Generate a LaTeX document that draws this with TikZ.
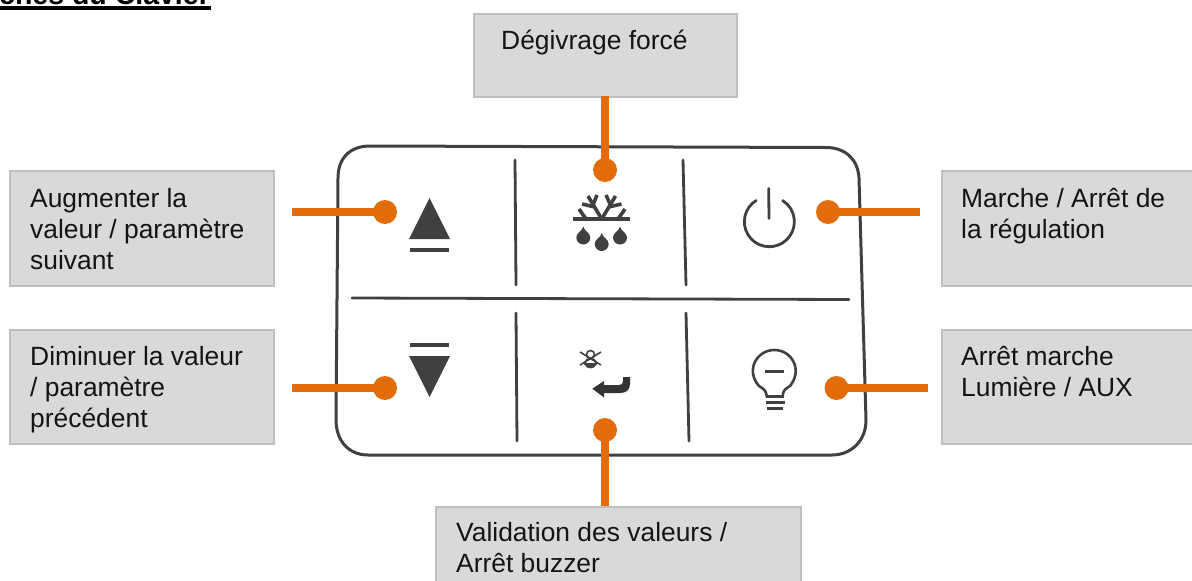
\documentclass[tikz,border=0pt]{standalone}
\usepackage{fontspec}
\setmainfont{Liberation Sans}
\definecolor{boxfill}{HTML}{D9D9D9}
\definecolor{boxedge}{HTML}{BFBFBF}
\definecolor{accent}{HTML}{E36C0A}
\definecolor{ink}{HTML}{404040}
\tikzset{
  x=1pt,y=-1pt,
  infobox/.style={draw=boxedge,fill=boxfill,line width=1.5pt,rectangle,inner sep=0pt,anchor=north west},
  infotext/.style={anchor=base west,inner sep=0pt,align=left,text=black!92,font=\fontsize{26.4}{31}\selectfont},
  dot/.style={circle,fill=accent,inner sep=0pt,minimum size=24pt},
  lead/.style={draw=accent,line width=8pt},
  panel/.style={draw=ink,line width=3pt,line cap=round,line join=round},
  rib/.style={draw=ink,line width=2.8pt,line cap=round},
  thin/.style={draw=ink,line width=2.6pt},
}
\begin{document}
\begin{tikzpicture}
\useasboundingbox (0,0) rectangle (1192,581);
% title, cut by the page top
\begin{scope}
\clip (0,0) rectangle (1192,581);
\node[anchor=base west,inner sep=0pt,font=\fontsize{28.5}{30}\selectfont\bfseries] (title) at (-1,4.5) {ches du Clavier};
\fill (0,6) rectangle (211,10);
\end{scope}
% boxes
\node[infobox,minimum width=263pt,minimum height=83pt] (bt) at (473,13) {};
\node[infobox,minimum width=264pt,minimum height=115pt] (bl1) at (9,170) {};
\node[infobox,minimum width=264pt,minimum height=114pt] (bl2) at (9,329) {};
\node[infobox,minimum width=260pt,minimum height=115pt] (br1) at (941,170) {};
\node[infobox,minimum width=260pt,minimum height=114pt] (br2) at (941,329) {};
\node[infobox,minimum width=365pt,minimum height=80pt] (bb) at (435,506) {};
\node[infotext] (tt) at (501,49.3) {Dégivrage forcé};
\node[infotext] (tl1) at (30,269) {Augmenter la\\valeur / paramètre\\suivant};
\node[infotext] (tl2) at (30,427) {Diminuer la valeur\\/ paramètre\\précédent};
\node[infotext] (tr1) at (961,238) {Marche / Arrêt de\\la régulation};
\node[infotext] (tr2) at (961,396.5) {Arrêt marche\\Lumière / AUX};
\node[infotext] (tb) at (456,572) {Validation des valeurs /\\Arrêt buzzer};
% panel
\draw[panel] (338,178) .. controls (338,158) and (350,146) .. (370,146) -- (826,147.5)
  .. controls (846,147.5) and (858,160) .. (859,178) -- (866,420)
  .. controls (866,442) and (850,455) .. (832,455) -- (368,455)
  .. controls (348,455) and (336,440) .. (336,420) -- cycle;
\draw[rib] (352,298) -- (849,299.5);
\draw[rib] (515,160) -- (516,285);
\draw[rib] (683,160) -- (686,285);
\draw[rib] (516,313) -- (517,441);
\draw[rib] (686,313) -- (689,441);
% arrows up / down
\fill[ink] (429.5,198) -- (450,239) -- (409,239) -- cycle;
\fill[ink] (410,248) rectangle (449,252);
\fill[ink] (429.5,397) -- (450,356) -- (409,356) -- cycle;
\fill[ink] (410,343) rectangle (449,347);
% snowflake
\begin{scope}[draw=ink,line width=3.6pt]
\draw (573,219) -- (630,219);
\draw (601.7,219) -- (588,196);
\draw (601.7,219) -- (615.5,196);
\draw (595,207) -- (582,204);
\draw (593,205) -- (597,195);
\draw (608.5,207) -- (621.5,204);
\draw (610.5,205) -- (606,195);
\draw (579,209) -- (586,219);
\draw (625,209) -- (618,219);
\end{scope}
\foreach \cx/\cy in {583.3/237.5,601.7/244,620/237.5}{
  \fill[ink] (\cx,\cy-11) .. controls (\cx+1,\cy-6) and (\cx+7,\cy-5) .. (\cx+7,\cy)
    arc[start angle=0,end angle=-180,radius=7pt]
    .. controls (\cx-7,\cy-5) and (\cx-1,\cy-6) .. (\cx,\cy-11) -- cycle;
}
% buzzer
\begin{scope}[draw=ink,line width=1.6pt]
\draw (580,352) -- (601,365);
\draw (601,352) -- (580,365);
\draw (590.5,354.5) circle[radius=4pt];
\draw (585,363) .. controls (585,357) and (596,357) .. (596,363) -- (596,364) -- (585,364) -- cycle;
\end{scope}
\fill[ink] (585,365) .. controls (586,369.5) and (595,369.5) .. (596,365) -- cycle;
% enter
\fill[ink!80!black] (592.3,388.7) -- (604,381) -- (604,385) -- (619,385)
  .. controls (622,385) and (623,384) .. (623,381) -- (623,377) -- (630,377) -- (630,384)
  .. controls (630,390) and (626,393) .. (620,393) -- (604,393) -- (604,397.5) -- cycle;
% power
\draw[draw=ink,line width=2.8pt,line cap=round] (756.1,200.5) arc[start angle=122,end angle=418,radius=25pt];
\draw[rib] (768.7,188.5) -- (769,218.5);
% bulb
\draw[thin,line cap=round,line join=round] (766.7,396.7) .. controls (766,389) and (763,389) .. (759,386)
  .. controls (745,370) and (757,350) .. (774.3,350)
  .. controls (792,350) and (803,370) .. (790,386)
  .. controls (786,389) and (783,389) .. (782.7,396.7);
\draw[rib,line cap=butt,line width=3pt] (765,371.5) -- (784,371.5);
\draw[rib,line cap=butt,line width=3pt] (765.5,396.7) -- (784,396.7);
\draw[rib,line cap=butt] (765.5,402.7) -- (784.5,402.7);
\draw[rib,line cap=butt] (766.5,408.7) -- (783,408.7);
% dots and leads
\node[dot] (dt) at (605,170) {};
\node[dot] (dl1) at (385,212) {};
\node[dot] (dl2) at (385,388) {};
\node[dot] (dr1) at (828,212) {};
\node[dot] (dr2) at (836.5,388) {};
\node[dot] (db) at (605,430) {};
\coordinate (el1) at (292,212);
\coordinate (el2) at (292,388);
\coordinate (er1) at (920,212);
\coordinate (er2) at (928,388);
\coordinate (et) at (605,96);
\coordinate (eb) at (605,506);
\draw[lead] (et) -- (dt.center);
\draw[lead] (eb) -- (db.center);
\draw[lead] (el1) -- (dl1.center);
\draw[lead] (el2) -- (dl2.center);
\draw[lead] (er1) -- (dr1.center);
\draw[lead] (er2) -- (dr2.center);
\end{tikzpicture}
\end{document}
